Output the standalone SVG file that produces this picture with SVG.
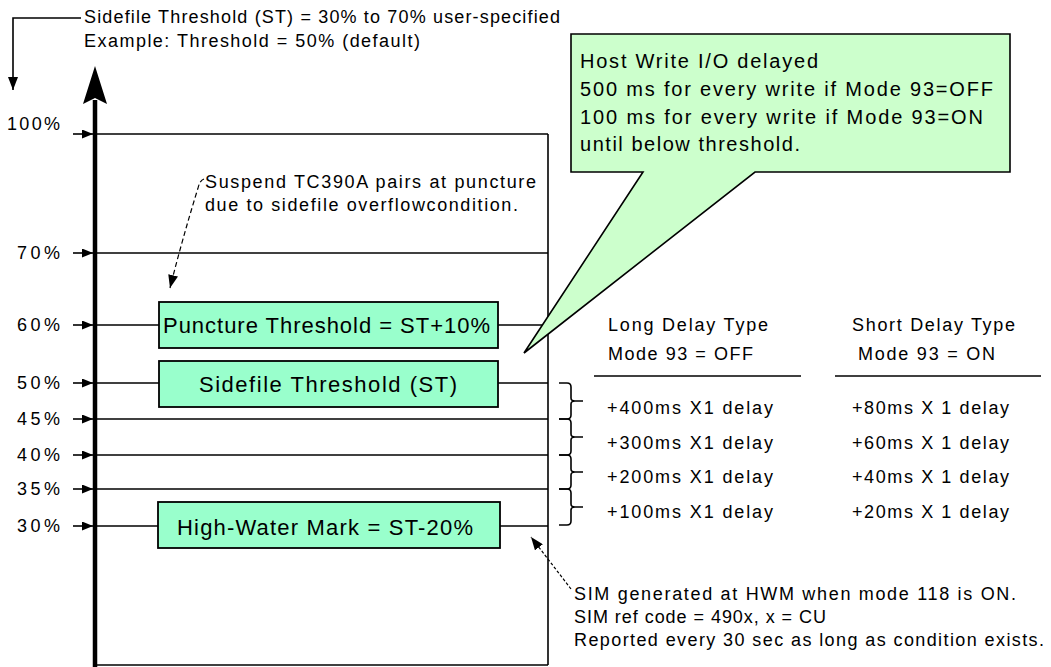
<svg xmlns="http://www.w3.org/2000/svg" width="1051" height="667" viewBox="0 0 1051 667">
<defs>
<style>
text{font-family:"Liberation Sans",Arial,sans-serif;fill:#000}
.t{font-size:18px}
.c{font-size:20px}
.b{font-size:22px}
.r{text-anchor:end}
.ln{stroke:#000;stroke-width:1.6;fill:none}
.box{fill:#99FFCC;stroke:#000;stroke-width:1.8}
.dash{stroke:#000;stroke-width:1.2;fill:none;stroke-dasharray:5 3}
.dot{stroke:#000;stroke-width:1.2;fill:none;stroke-dasharray:3 2}
</style>
<marker id="tick" viewBox="0 0 11 9" refX="11" refY="4.5" markerWidth="11" markerHeight="9" markerUnits="userSpaceOnUse" orient="auto">
<path d="M0,0 L11,4.5 L0,9 Z" fill="#000"/>
</marker>
<marker id="ah" viewBox="0 0 13 10" refX="13" refY="5" markerWidth="13" markerHeight="10" markerUnits="userSpaceOnUse" orient="auto">
<path d="M0,0 L13,5 L0,10 Z" fill="#000"/>
</marker>
</defs>
<rect width="1051" height="667" fill="#fff"/>

<g id="connectors">
<polyline class="ln" points="81,18 13,18 13,90" marker-end="url(#ah)"/>
<line x1="95" y1="100" x2="95" y2="667" stroke="#000" stroke-width="4.5"/>
<path d="M95,66 L107,104 L95,98 L83,104 Z" fill="#000"/>
<line class="ln" x1="548" y1="134" x2="548" y2="665"/>
<line class="ln" x1="95" y1="665" x2="548" y2="665"/>
<line class="ln" x1="97" y1="134" x2="548" y2="134"/>
<line class="ln" x1="97" y1="253" x2="548" y2="253"/>
<line class="ln" x1="97" y1="325" x2="159" y2="325"/>
<line class="ln" x1="498" y1="325" x2="548" y2="325"/>
<line class="ln" x1="97" y1="383" x2="159" y2="383"/>
<line class="ln" x1="498" y1="383" x2="548" y2="383"/>
<line class="ln" x1="97" y1="419" x2="548" y2="419"/>
<line class="ln" x1="97" y1="455" x2="548" y2="455"/>
<line class="ln" x1="97" y1="489" x2="548" y2="489"/>
<line class="ln" x1="97" y1="526" x2="158" y2="526"/>
<line class="ln" x1="500" y1="526" x2="548" y2="526"/>
<g class="ln">
<line x1="73" y1="134" x2="93" y2="134" marker-end="url(#tick)"/>
<line x1="73" y1="253" x2="93" y2="253" marker-end="url(#tick)"/>
<line x1="73" y1="325" x2="93" y2="325" marker-end="url(#tick)"/>
<line x1="73" y1="383" x2="93" y2="383" marker-end="url(#tick)"/>
<line x1="73" y1="419" x2="93" y2="419" marker-end="url(#tick)"/>
<line x1="73" y1="455" x2="93" y2="455" marker-end="url(#tick)"/>
<line x1="73" y1="489" x2="93" y2="489" marker-end="url(#tick)"/>
<line x1="73" y1="526" x2="93" y2="526" marker-end="url(#tick)"/>
</g>
<path class="ln" stroke-width="1.4" d="M559,383 H567 Q571,383 571,387 V398 Q571,401 575,401 H583 M575,401 Q571,401 571,404 V415 Q571,419 567,419 H559"/>
<path class="ln" stroke-width="1.4" d="M559,419 H567 Q571,419 571,423 V434 Q571,437 575,437 H583 M575,437 Q571,437 571,440 V451 Q571,455 567,455 H559"/>
<path class="ln" stroke-width="1.4" d="M559,455 H567 Q571,455 571,459 V469 Q571,472 575,472 H583 M575,472 Q571,472 571,475 V485 Q571,489 567,489 H559"/>
<path class="ln" stroke-width="1.4" d="M559,489 H567 Q571,489 571,493 V504 Q571,507 575,507 H583 M575,507 Q571,507 571,510 V521 Q571,525 567,525 H559"/>
<line class="ln" x1="594" y1="376" x2="801" y2="376"/>
<line class="ln" x1="835" y1="376" x2="1041" y2="376"/>
<path class="dash" d="M204,179 Q200,180 198,188 Q182,240 170,288" marker-end="url(#ah)"/>
<path class="dot" d="M571,589 L531,537" marker-end="url(#ah)"/>
</g>

<g id="labels">
<text class="t" x="84" y="23" textLength="476" lengthAdjust="spacing">Sidefile Threshold (ST) = 30% to 70% user-specified</text>
<text class="t" x="84" y="47" textLength="336" lengthAdjust="spacing">Example: Threshold = 50% (default)</text>
<text class="t r" x="60" y="130" textLength="53" lengthAdjust="spacing">100%</text>
<text class="t r" x="60" y="259" textLength="43" lengthAdjust="spacing">70%</text>
<text class="t r" x="60" y="331" textLength="43" lengthAdjust="spacing">60%</text>
<text class="t r" x="60" y="389" textLength="43" lengthAdjust="spacing">50%</text>
<text class="t r" x="60" y="425" textLength="43" lengthAdjust="spacing">45%</text>
<text class="t r" x="60" y="461" textLength="43" lengthAdjust="spacing">40%</text>
<text class="t r" x="60" y="495" textLength="43" lengthAdjust="spacing">35%</text>
<text class="t r" x="60" y="532" textLength="43" lengthAdjust="spacing">30%</text>
</g>

<g id="callout">
<path d="M571,34 H1010 V172 H755 L524,353 L643,172 H571 Z" fill="#CCFFCC" stroke="#000" stroke-width="1.6"/>
<text class="c" x="580" y="68" textLength="238" lengthAdjust="spacing">Host Write I/O delayed</text>
<text class="c" x="580" y="96" textLength="413" lengthAdjust="spacing">500 ms for every write if Mode 93=OFF</text>
<text class="c" x="580" y="124" textLength="403" lengthAdjust="spacing">100 ms for every write if Mode 93=ON</text>
<text class="c" x="580" y="151" textLength="220" lengthAdjust="spacing">until below threshold.</text>
</g>

<g id="suspend-note">
<text class="t" x="205" y="188" textLength="331" lengthAdjust="spacing">Suspend TC390A pairs at puncture</text>
<text class="t" x="205" y="211" textLength="313" lengthAdjust="spacing">due to sidefile overflowcondition.</text>
</g>

<g id="puncture">
<rect class="box" x="159" y="302" width="339" height="46"/>
<text class="b" x="163" y="333" textLength="327" lengthAdjust="spacing">Puncture Threshold = ST+10%</text>
</g>
<g id="sidefile">
<rect class="box" x="159" y="361" width="339" height="46"/>
<text class="b" x="199" y="392" textLength="258" lengthAdjust="spacing">Sidefile Threshold (ST)</text>
</g>
<g id="hwm">
<rect class="box" x="158" y="502" width="342" height="46"/>
<text class="b" x="177" y="535" textLength="296" lengthAdjust="spacing">High-Water Mark = ST-20%</text>
</g>

<g id="delay-table">
<text class="t" x="608" y="331" textLength="160" lengthAdjust="spacing">Long Delay Type</text>
<text class="t" x="608" y="360" textLength="145" lengthAdjust="spacing">Mode 93 = OFF</text>
<text class="t" x="852" y="331" textLength="163" lengthAdjust="spacing">Short Delay Type</text>
<text class="t" x="858" y="360" textLength="137" lengthAdjust="spacing">Mode 93 = ON</text>
<text class="t" x="607" y="414" textLength="166" lengthAdjust="spacing">+400ms X1 delay</text>
<text class="t" x="607" y="449" textLength="166" lengthAdjust="spacing">+300ms X1 delay</text>
<text class="t" x="607" y="483" textLength="166" lengthAdjust="spacing">+200ms X1 delay</text>
<text class="t" x="607" y="518" textLength="166" lengthAdjust="spacing">+100ms X1 delay</text>
<text class="t" x="852" y="414" textLength="157" lengthAdjust="spacing">+80ms X 1 delay</text>
<text class="t" x="852" y="449" textLength="157" lengthAdjust="spacing">+60ms X 1 delay</text>
<text class="t" x="852" y="483" textLength="157" lengthAdjust="spacing">+40ms X 1 delay</text>
<text class="t" x="852" y="518" textLength="157" lengthAdjust="spacing">+20ms X 1 delay</text>
</g>

<g id="sim-note">
<text class="t" x="574" y="600" textLength="442" lengthAdjust="spacing">SIM generated at HWM when mode 118 is ON.</text>
<text class="t" x="574" y="623" textLength="252" lengthAdjust="spacing">SIM ref code = 490x, x = CU</text>
<text class="t" x="574" y="646" textLength="470" lengthAdjust="spacing">Reported every 30 sec as long as condition exists.</text>
</g>
</svg>
